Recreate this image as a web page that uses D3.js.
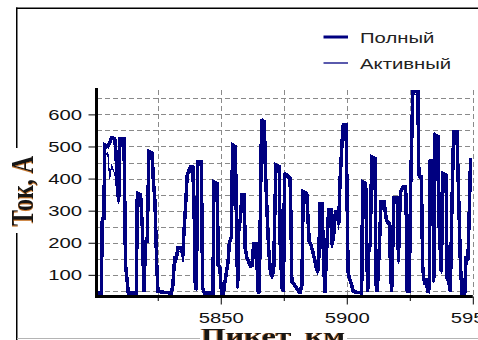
<!DOCTYPE html>
<html><head><meta charset="utf-8">
<script src="https://cdn.jsdelivr.net/npm/d3@7"></script>
<style>body{margin:0;background:#fff;} svg{display:block;}</style>
</head><body>
<svg id="c" width="478" height="340"></svg>
<script>
// ---- data ----
const km = [
5800.7,5802.6,5803.0,5803.6,5804.0,5805.2,5805.9,5806.7,5807.9,5808.4,5808.9,5809.5,5810.0,5811.6,5811.9,5812.2,5812.9,5813.3,
5816.5,5816.9,5818.2,5818.9,5819.5,5820.2,5820.8,5821.5,5822.8,5823.2,5823.9,5824.6,5825.1,
5830.4,5831.0,5831.7,5832.4,5833.0,5834.3,5835.0,5835.4,5835.9,5836.7,5837.4,5838.0,5838.9,5839.4,5839.9,5840.3,5840.9,5842.3,5842.8,5843.6,
5846.9,5847.3,5848.6,5849.0,5849.6,5850.3,5851.1,5851.5,5852.1,5852.9,5853.4,5854.2,5854.7,5855.8,5856.2,5856.7,5857.1,5857.8,5858.4,5859.3,
5859.7,5860.4,5861.1,5861.7,5862.6,5863.0,5864.1,5864.8,5865.3,5865.8,5866.2,5867.3,5867.7,5868.3,5869.0,5869.7,5870.3,5871.0,5871.4,5871.9,
5873.2,5873.6,5874.3,5874.9,5875.3,5876.3,5877.5,5877.9,5878.2,5879.2,5880.5,5881.4,5882.2,5882.7,5884.1,5884.6,5885.1,5885.8,5886.5,5887.1,
5887.8,5888.4,5888.8,5889.4,5890.2,5890.7,5891.3,5892.0,5892.8,5893.7,5894.1,5894.7,5895.1,5895.5,5896.4,5896.8,5897.3,5898.1,5898.6,5899.7,
5900.1,5900.5,5901.0,5901.9,5902.6,5905.9,5906.3,5907.5,5907.9,5908.3,5908.8,5909.3,5909.9,5911.2,5911.6,5912.1,5912.9,5913.6,5914.8,5915.6,
5916.1,5916.9,5917.4,5917.8,5918.2,5918.7,5920.1,5920.5,5920.9,5921.4,5922.4,5923.1,5923.5,5924.0,5924.8,5925.3,5926.2,5928.2,5928.6,5929.6,
5930.1,5930.5,5931.2,5931.8,5932.2,5932.7,5933.1,5934.1,5934.5,5935.1,5936.2,5936.7,5937.5,5938.2,5939.4,5939.8,5940.4,5941.1,5941.7,5942.4,
5943.7,5944.4,5945.1,5945.7,5946.8,5947.3,5948.1,5948.6,5949.1,5949.8
];
const full = [
43,43,276,276,505,500,510,527,525,484,380,328,525,525,339,131,79,43,
43,354,349,245,48,204,204,484,479,401,328,131,48,
43,69,152,152,183,183,160,235,297,411,427,437,437,318,69,53,451,451,58,43,
43,390,385,130,126,43,43,69,100,141,198,219,505,500,276,58,235,276,349,349,
183,152,141,131,131,198,198,48,43,349,583,577,432,307,183,110,95,110,276,442,
437,193,58,48,416,411,401,256,79,69,53,43,69,359,354,276,204,193,173,152,
126,110,121,323,323,173,43,173,302,302,193,214,256,297,297,256,390,510,567,567,
359,110,90,69,48,43,390,385,193,48,193,193,468,463,69,48,183,328,328,276,
266,261,110,48,173,339,339,141,276,359,375,375,349,48,48,359,672,672,411,406,
131,89,69,89,43,58,458,453,79,536,531,245,110,416,411,89,79,48,307,546,
546,339,131,43,43,152,152,297,458,458
];
const active = [
43,43,270,270,470,480,400,440,415,395,340,320,518,518,330,128,76,43,
43,345,340,150,48,200,200,476,470,395,320,128,45,
43,66,148,140,175,170,140,225,288,400,415,420,425,300,65,50,443,443,55,43,
43,382,378,126,122,43,43,66,96,136,190,210,495,490,268,55,200,250,340,340,
175,145,130,122,125,190,190,46,43,340,573,567,420,298,175,105,88,104,268,434,
428,185,55,46,408,402,392,248,75,65,50,43,66,350,345,268,195,185,165,145,
120,100,115,315,315,165,43,165,294,294,185,205,230,270,275,240,380,500,558,558,
350,105,85,65,46,43,382,376,186,46,186,186,460,455,60,46,175,320,320,268,
258,252,105,46,165,330,330,135,268,350,366,366,340,46,46,350,662,662,402,397,
125,84,65,84,43,55,450,445,75,527,522,238,104,408,402,84,75,46,298,537,
537,330,125,43,43,146,146,288,450,450
];
const seriesNames = ["Полный", "Активный"];
const yTicks = [100, 200, 300, 400, 500, 600];
const yGrid = [50, 100, 150, 200, 250, 300, 350, 400, 450, 500, 550, 600, 650];
const xMajor = [5850, 5900, 5950];
const xMinor = [5825, 5875, 5925];
const xGrid = [5825, 5850, 5875, 5900, 5925, 5950];
const yTitle = "Ток, А";
const xTitle = "Пикет, км";

// ---- drawing ----
const svg = d3.select("#c");
const NAVY = "#000080";
const x = d3.scaleLinear().domain([5800.7, 5950]).range([96.5, 472.8]);
const y = d3.scaleLinear().domain([35, 676]).range([295.7, 90]);

const defs = svg.append("defs");
const f = defs.append("filter").attr("id", "shadow").attr("x", "-20%").attr("y", "-20%")
  .attr("width", "140%").attr("height", "140%");
f.append("feOffset").attr("in", "SourceAlpha").attr("dx", -1).attr("dy", 0).attr("result", "off");
f.append("feFlood").attr("flood-color", "#c8782e").attr("result", "col");
f.append("feComposite").attr("in", "col").attr("in2", "off").attr("operator", "in").attr("result", "sh");
const fm = f.append("feMerge");
fm.append("feMergeNode").attr("in", "sh");
fm.append("feMergeNode").attr("in", "SourceGraphic");

svg.append("rect").attr("width", 478).attr("height", 340).attr("fill", "#fff");

// outer frame
svg.append("line").attr("x1", 16.75).attr("x2", 16.75).attr("y1", 7.5).attr("y2", 340)
  .attr("stroke", "#000").attr("stroke-width", 1.5);
svg.append("line").attr("x1", 16).attr("x2", 478).attr("y1", 8.25).attr("y2", 8.25)
  .attr("stroke", "#000").attr("stroke-width", 1.5);
svg.append("line").attr("x1", 17).attr("x2", 478).attr("y1", 338.5).attr("y2", 338.5)
  .attr("stroke", "#b4b4b4").attr("stroke-width", 1);

// grid
const grid = svg.append("g").attr("stroke", "#8a8a8a").attr("stroke-width", 1)
  .attr("stroke-dasharray", "5,3").attr("shape-rendering", "crispEdges");
grid.selectAll("line.h").data(yGrid).join("line").attr("class", "h")
  .attr("x1", x.range()[0]).attr("x2", x.range()[1])
  .attr("y1", d => Math.round(y(d)) + 0.5).attr("y2", d => Math.round(y(d)) + 0.5);
grid.selectAll("line.v").data(xGrid).join("line").attr("class", "v")
  .attr("x1", d => Math.round(x(d)) + 0.5).attr("x2", d => Math.round(x(d)) + 0.5)
  .attr("y1", 90).attr("y2", 295);

// series
const pts = (vals) => km.map((k, i) => [k, vals[i]]);
const line = d3.line().x(d => x(d[0])).y(d => y(d[1]));
svg.append("path").attr("d", line(pts(full))).attr("fill", "none")
  .attr("stroke", NAVY).attr("stroke-width", 3.5).attr("stroke-linejoin", "miter").attr("stroke-miterlimit", 2)
  .attr("shape-rendering", "crispEdges");
svg.append("path").attr("d", line(pts(active))).attr("fill", "none")
  .attr("stroke", NAVY).attr("stroke-width", 1.2).attr("shape-rendering", "crispEdges");

// y axis
const yAxis = svg.append("g").attr("transform", "translate(96.5,0)")
  .call(d3.axisLeft(y).tickValues(yTicks).tickSize(8).tickSizeOuter(0).tickFormat(d3.format("d")));
yAxis.select(".domain").remove();
yAxis.selectAll(".tick line").attr("stroke", "#000").attr("stroke-width", 1);
yAxis.selectAll(".tick text").attr("x", 0).attr("dy", 0)
  .attr("transform", "translate(-14.5,5) scale(1.45,1)")
  .attr("font-family", "'Liberation Sans', Arial, sans-serif").attr("font-size", 14).attr("fill", "#111");

// x axis
const xAxisMaj = svg.append("g").attr("transform", "translate(0,296.5)")
  .call(d3.axisBottom(x).tickValues(xMajor).tickSize(8).tickSizeOuter(0).tickFormat(d3.format("d")));
xAxisMaj.select(".domain").remove();
xAxisMaj.selectAll(".tick line").attr("stroke", "#000");
xAxisMaj.selectAll(".tick text").attr("y", 0).attr("dy", 0)
  .attr("transform", "translate(0,26) scale(1.45,1)")
  .attr("font-family", "'Liberation Sans', Arial, sans-serif").attr("font-size", 14).attr("fill", "#111");
const xAxisMin = svg.append("g").attr("transform", "translate(0,296.5)")
  .call(d3.axisBottom(x).tickValues(xMinor).tickSize(4.5).tickSizeOuter(0));
xAxisMin.select(".domain").remove();
xAxisMin.selectAll(".tick text").remove();
xAxisMin.selectAll(".tick line").attr("stroke", "#000");

// axis lines (thick)
svg.append("line").attr("x1", 96.5).attr("x2", 96.5).attr("y1", 88).attr("y2", 298)
  .attr("stroke", "#000").attr("stroke-width", 3);
svg.append("line").attr("x1", 95).attr("x2", x.range()[1]).attr("y1", 296.5).attr("y2", 296.5)
  .attr("stroke", "#000").attr("stroke-width", 3);

// axis titles
svg.append("rect").attr("x", 6).attr("y", 148).attr("width", 30).attr("height", 85).attr("fill", "#fff");
const serif = "'Liberation Serif', 'Times New Roman', serif";
svg.append("text").text(yTitle)
  .attr("transform", "translate(33,191) rotate(-90) scale(1,1.35)")
  .attr("text-anchor", "middle").attr("font-family", serif).attr("font-weight", "bold")
  .attr("font-size", 24).attr("fill", "#141414").attr("filter", "url(#shadow)");

svg.append("rect").attr("x", 200).attr("y", 328).attr("width", 147).attr("height", 12).attr("fill", "#fff");
svg.append("text").text(xTitle)
  .attr("transform", "translate(273,343) scale(1.45,1)")
  .attr("text-anchor", "middle").attr("font-family", serif).attr("font-weight", "bold")
  .attr("font-size", 22).attr("fill", "#141414").attr("filter", "url(#shadow)");

// legend
const legend = svg.append("g");
const legY = [37, 63];
const legW = [3, 1.3];
seriesNames.forEach((name, i) => {
  legend.append("line").attr("x1", 323.5).attr("x2", 348).attr("y1", legY[i]).attr("y2", legY[i])
    .attr("stroke", NAVY).attr("stroke-width", legW[i]);
  legend.append("text").text(name)
    .attr("transform", `translate(360,${legY[i] + 5.5}) scale(1.45,1)`)
    .attr("font-family", "'Liberation Sans', Arial, sans-serif").attr("font-size", 14).attr("fill", "#222");
});
</script>
</body></html>
